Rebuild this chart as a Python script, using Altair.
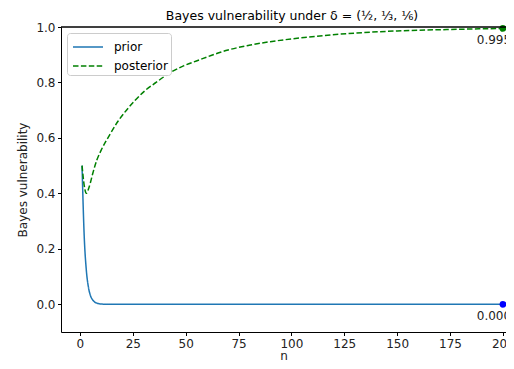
import altair as alt
import pandas as pd

# ---- data ----
series = ["prior", "posterior"]
series_colors = ["#1f77b4", "green"]

n_prior = [1, 2, 3, 4, 5, 6, 7, 8, 10, 12, 15, 200]
v_prior = [0.5, 0.25, 0.125, 0.0625, 0.031, 0.016, 0.008, 0.004, 0.001, 0.0002, 0.0, 0.0]

n_post = [1, 2, 3, 4, 5, 6, 8, 10, 14, 18, 22, 26, 31, 36, 42, 49, 56, 63, 70,
          80, 90, 100, 115, 130, 150, 175, 200]
v_post = [0.50, 0.43, 0.40, 0.415, 0.44, 0.47, 0.52, 0.555, 0.61, 0.66, 0.70,
          0.735, 0.772, 0.80, 0.832, 0.86, 0.88, 0.90, 0.917, 0.934, 0.947,
          0.957, 0.969, 0.978, 0.986, 0.991, 0.995]

end_n = [200, 200]
end_v = [0.000, 0.995]
end_labels = ["0.000", "0.995"]
end_colors = ["blue", "green"]

x_ticks = [0, 25, 50, 75, 100, 125, 150, 175, 200]
y_ticks = [0.0, 0.2, 0.4, 0.6, 0.8, 1.0]

lines_df = pd.DataFrame({
    "n": n_prior + n_post,
    "v": v_prior + v_post,
    "series": ["prior"] * len(n_prior) + ["posterior"] * len(n_post),
})
end_df = pd.DataFrame({"n": end_n, "v": end_v, "label": end_labels, "c": end_colors})

W, H = 445, 305
FONT = "DejaVu Sans"

x = alt.X("n:Q",
          scale=alt.Scale(domain=[-8.95, 201.45], nice=False, zero=False),
          axis=alt.Axis(values=x_ticks, title="n", format="d",
                        titleY=27, titleBaseline="alphabetic"))
y = alt.Y("v:Q",
          scale=alt.Scale(domain=[-0.1, 1.0], nice=False, zero=False),
          axis=alt.Axis(values=y_ticks, title="Bayes vulnerability", format=".1f"))

legend = alt.Legend(title=None, orient="none", legendX=6, legendY=6,
                    symbolType="M-1.5,0H1.5", symbolSize=400, symbolStrokeWidth=1.5,
                    symbolOffset=7,
                    labelFontSize=12, labelFont=FONT, labelColor="black",
                    labelOffset=15, rowPadding=2, padding=3,
                    fillColor="white", strokeColor="#cccccc", cornerRadius=3)

lines = alt.Chart(lines_df).mark_line(strokeWidth=1.5, interpolate="monotone").encode(
    x=x, y=y,
    color=alt.Color("series:N", scale=alt.Scale(domain=series, range=series_colors), legend=legend),
    strokeDash=alt.StrokeDash("series:N",
                              scale=alt.Scale(domain=series, range=[[1, 0], [5.5, 2.4]]),
                              legend=legend),
)

points = alt.Chart(end_df).mark_point(filled=True, size=45, opacity=1).encode(
    x=x, y=y, color=alt.Color("c:N", scale=None, legend=None)
)

labels = alt.Chart(end_df).mark_text(dy=12, dx=-9, fontSize=12, font=FONT, color="#222222",
                                     align="center", baseline="middle").encode(
    x=x, y=y, text="label:N"
)

top_spine = alt.Chart(end_df).mark_rule(color="black", strokeWidth=1).encode(
    x=alt.value(0), x2=alt.value(W), y=alt.value(0)
)

chart = alt.layer(lines, points, labels, top_spine).properties(
    width=W, height=H,
    title=alt.TitleParams(text="Bayes vulnerability under δ = (½, ⅓, ⅙)",
                          fontSize=12.5, fontWeight="normal", font=FONT, color="black",
                          anchor="middle", dx=8.5, dy=13, offset=2, baseline="alphabetic"),
    autosize=alt.AutoSizeParams(type="none"),
    padding={"left": 53, "top": 19, "right": 0, "bottom": 29},
    background="white",
).configure_view(stroke=None).configure_axis(
    grid=False, domainColor="black", domainWidth=1, tickColor="black", tickSize=3.5,
    labelFontSize=12, labelFont=FONT, labelColor="#222222", labelPadding=2.5,
    titleFontSize=12, titleFont=FONT, titleFontWeight="normal", titleColor="#222222",
).configure_axisY(titlePadding=6)

chart.save("out.html", embed_options={"renderer": "svg", "actions": False})
